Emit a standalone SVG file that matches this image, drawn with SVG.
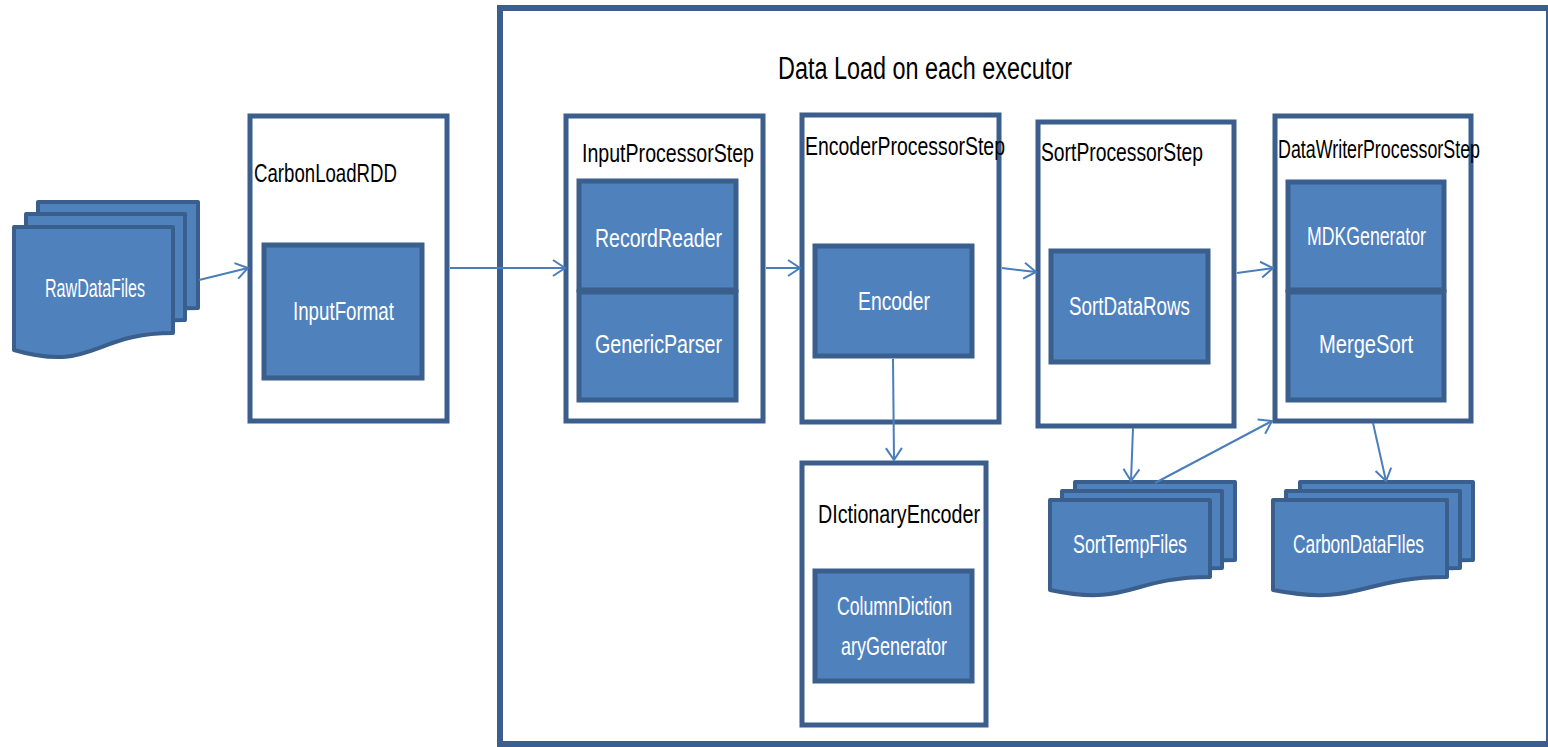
<svg xmlns="http://www.w3.org/2000/svg" width="1548" height="747" viewBox="0 0 1548 747">
<style>
.frame{fill:#fff;stroke:#3B5E8C;stroke-width:5}
.blue{fill:#4F81BD;stroke:#3A5F8D;stroke-width:5}
.doc{fill:#4F81BD;stroke:#3A5F8D;stroke-width:4;stroke-linejoin:round}
.lbl{font-family:"Liberation Sans",Arial,sans-serif;font-size:26px;fill:#000}
.wt{font-family:"Liberation Sans",Arial,sans-serif;font-size:26px;fill:#fff;text-anchor:start}
.title{font-family:"Liberation Sans",Arial,sans-serif;font-size:31px;fill:#000}
.conn{stroke:#4A7EBB;stroke-width:2;fill:none}
</style>
<defs>
<marker id="arr" markerUnits="userSpaceOnUse" markerWidth="16" markerHeight="20" refX="13" refY="9" orient="auto" viewBox="0 0 16 18">
<path d="M1,1 L13,9 L1,17" fill="none" stroke="#4A7EBB" stroke-width="2"/>
</marker>
</defs>
<rect width="1548" height="747" fill="#fff"/>

<g id="executor">
<rect x="500" y="8" width="1049" height="736" fill="#fff" stroke="#3B5E8C" stroke-width="6"/>
<text class="title" x="778" y="79" textLength="294" lengthAdjust="spacingAndGlyphs">Data Load on each executor</text>
</g>

<g id="rawdatafiles">
<path class="doc" d="M38,202 H198 V308 C118,308 118,348 38,325 Z"/>
<path class="doc" d="M26,214 H185 V320 C105,320 105,360 26,337 Z"/>
<path class="doc" d="M14,227 H173 V333 C93,333 93,373 14,350 Z"/>
<text class="wt" x="45" y="297" textLength="100" lengthAdjust="spacingAndGlyphs">RawDataFiles</text>
</g>

<g id="carbonloadrdd">
<rect class="frame" x="250" y="116" width="197" height="305"/>
<text class="lbl" x="254" y="182" textLength="143" lengthAdjust="spacingAndGlyphs">CarbonLoadRDD</text>
<rect class="blue" x="264" y="245" width="158" height="133"/>
<text class="wt" x="293" y="320" textLength="101" lengthAdjust="spacingAndGlyphs">InputFormat</text>
</g>

<g id="inputprocessorstep">
<rect class="frame" x="566" y="116" width="197" height="305"/>
<text class="lbl" x="582" y="162" textLength="172" lengthAdjust="spacingAndGlyphs">InputProcessorStep</text>
<rect class="blue" x="579" y="181" width="157" height="109"/>
<rect class="blue" x="579" y="292" width="157" height="108"/>
<text class="wt" x="595" y="247" textLength="127" lengthAdjust="spacingAndGlyphs">RecordReader</text>
<text class="wt" x="595" y="353" textLength="127" lengthAdjust="spacingAndGlyphs">GenericParser</text>
</g>

<g id="encoderprocessorstep">
<rect class="frame" x="802" y="115" width="197" height="307"/>
<text class="lbl" x="805" y="155" textLength="200" lengthAdjust="spacingAndGlyphs">EncoderProcessorStep</text>
<rect class="blue" x="815" y="246" width="157" height="110"/>
<text class="wt" x="858" y="310" textLength="72" lengthAdjust="spacingAndGlyphs">Encoder</text>
</g>

<g id="dictionaryencoder">
<rect class="frame" x="802" y="463" width="184" height="262"/>
<text class="lbl" x="818" y="523" textLength="162" lengthAdjust="spacingAndGlyphs">DIctionaryEncoder</text>
<rect class="blue" x="815" y="571" width="157" height="110"/>
<text class="wt" x="837" y="615" textLength="115" lengthAdjust="spacingAndGlyphs">ColumnDiction</text>
<text class="wt" x="841" y="655" textLength="106" lengthAdjust="spacingAndGlyphs">aryGenerator</text>
</g>

<g id="sortprocessorstep">
<rect class="frame" x="1038" y="122" width="196" height="304"/>
<text class="lbl" x="1041" y="161" textLength="162" lengthAdjust="spacingAndGlyphs">SortProcessorStep</text>
<rect class="blue" x="1051" y="251" width="157" height="111"/>
<text class="wt" x="1069" y="315" textLength="121" lengthAdjust="spacingAndGlyphs">SortDataRows</text>
</g>

<g id="datawriterprocessorstep">
<rect class="frame" x="1275" y="116" width="196" height="305"/>
<text class="lbl" x="1278" y="158" textLength="202" lengthAdjust="spacingAndGlyphs">DataWriterProcessorStep</text>
<rect class="blue" x="1288" y="182" width="156" height="108"/>
<rect class="blue" x="1288" y="292" width="156" height="108"/>
<text class="wt" x="1307" y="245" textLength="119" lengthAdjust="spacingAndGlyphs">MDKGenerator</text>
<text class="wt" x="1319" y="353" textLength="94" lengthAdjust="spacingAndGlyphs">MergeSort</text>
</g>

<g id="sorttempfiles">
<path class="doc" d="M1075,482 H1235 V560 C1155,560 1155,590 1075,572 Z"/>
<path class="doc" d="M1062,491 H1222 V568 C1142,568 1142,598 1062,580 Z"/>
<path class="doc" d="M1050,500 H1210 V577 C1130,577 1130,607 1050,590 Z"/>
<text class="wt" x="1073" y="553" textLength="114" lengthAdjust="spacingAndGlyphs">SortTempFiles</text>
</g>

<g id="carbondatafiles">
<path class="doc" d="M1300,482 H1473 V560 C1386,560 1386,590 1300,572 Z"/>
<path class="doc" d="M1286,491 H1460 V568 C1373,568 1373,598 1286,580 Z"/>
<path class="doc" d="M1273,500 H1447 V577 C1360,577 1360,607 1273,590 Z"/>
<text class="wt" x="1293" y="553" textLength="131" lengthAdjust="spacingAndGlyphs">CarbonDataFIles</text>
</g>

<g id="connectors">
<line class="conn" x1="199" y1="280" x2="248" y2="268" marker-end="url(#arr)"/>
<line class="conn" x1="450" y1="268" x2="565" y2="268" marker-end="url(#arr)"/>
<line class="conn" x1="766" y1="268" x2="800" y2="268" marker-end="url(#arr)"/>
<line class="conn" x1="893" y1="359" x2="894" y2="460" marker-end="url(#arr)"/>
<line class="conn" x1="1002" y1="268" x2="1036" y2="272" marker-end="url(#arr)"/>
<line class="conn" x1="1237" y1="273" x2="1273" y2="268" marker-end="url(#arr)"/>
<line class="conn" x1="1133" y1="428" x2="1131" y2="481" marker-end="url(#arr)"/>
<line class="conn" x1="1155" y1="483" x2="1272" y2="421" marker-end="url(#arr)"/>
<line class="conn" x1="1373" y1="423" x2="1386" y2="481" marker-end="url(#arr)"/>
</g>
</svg>
